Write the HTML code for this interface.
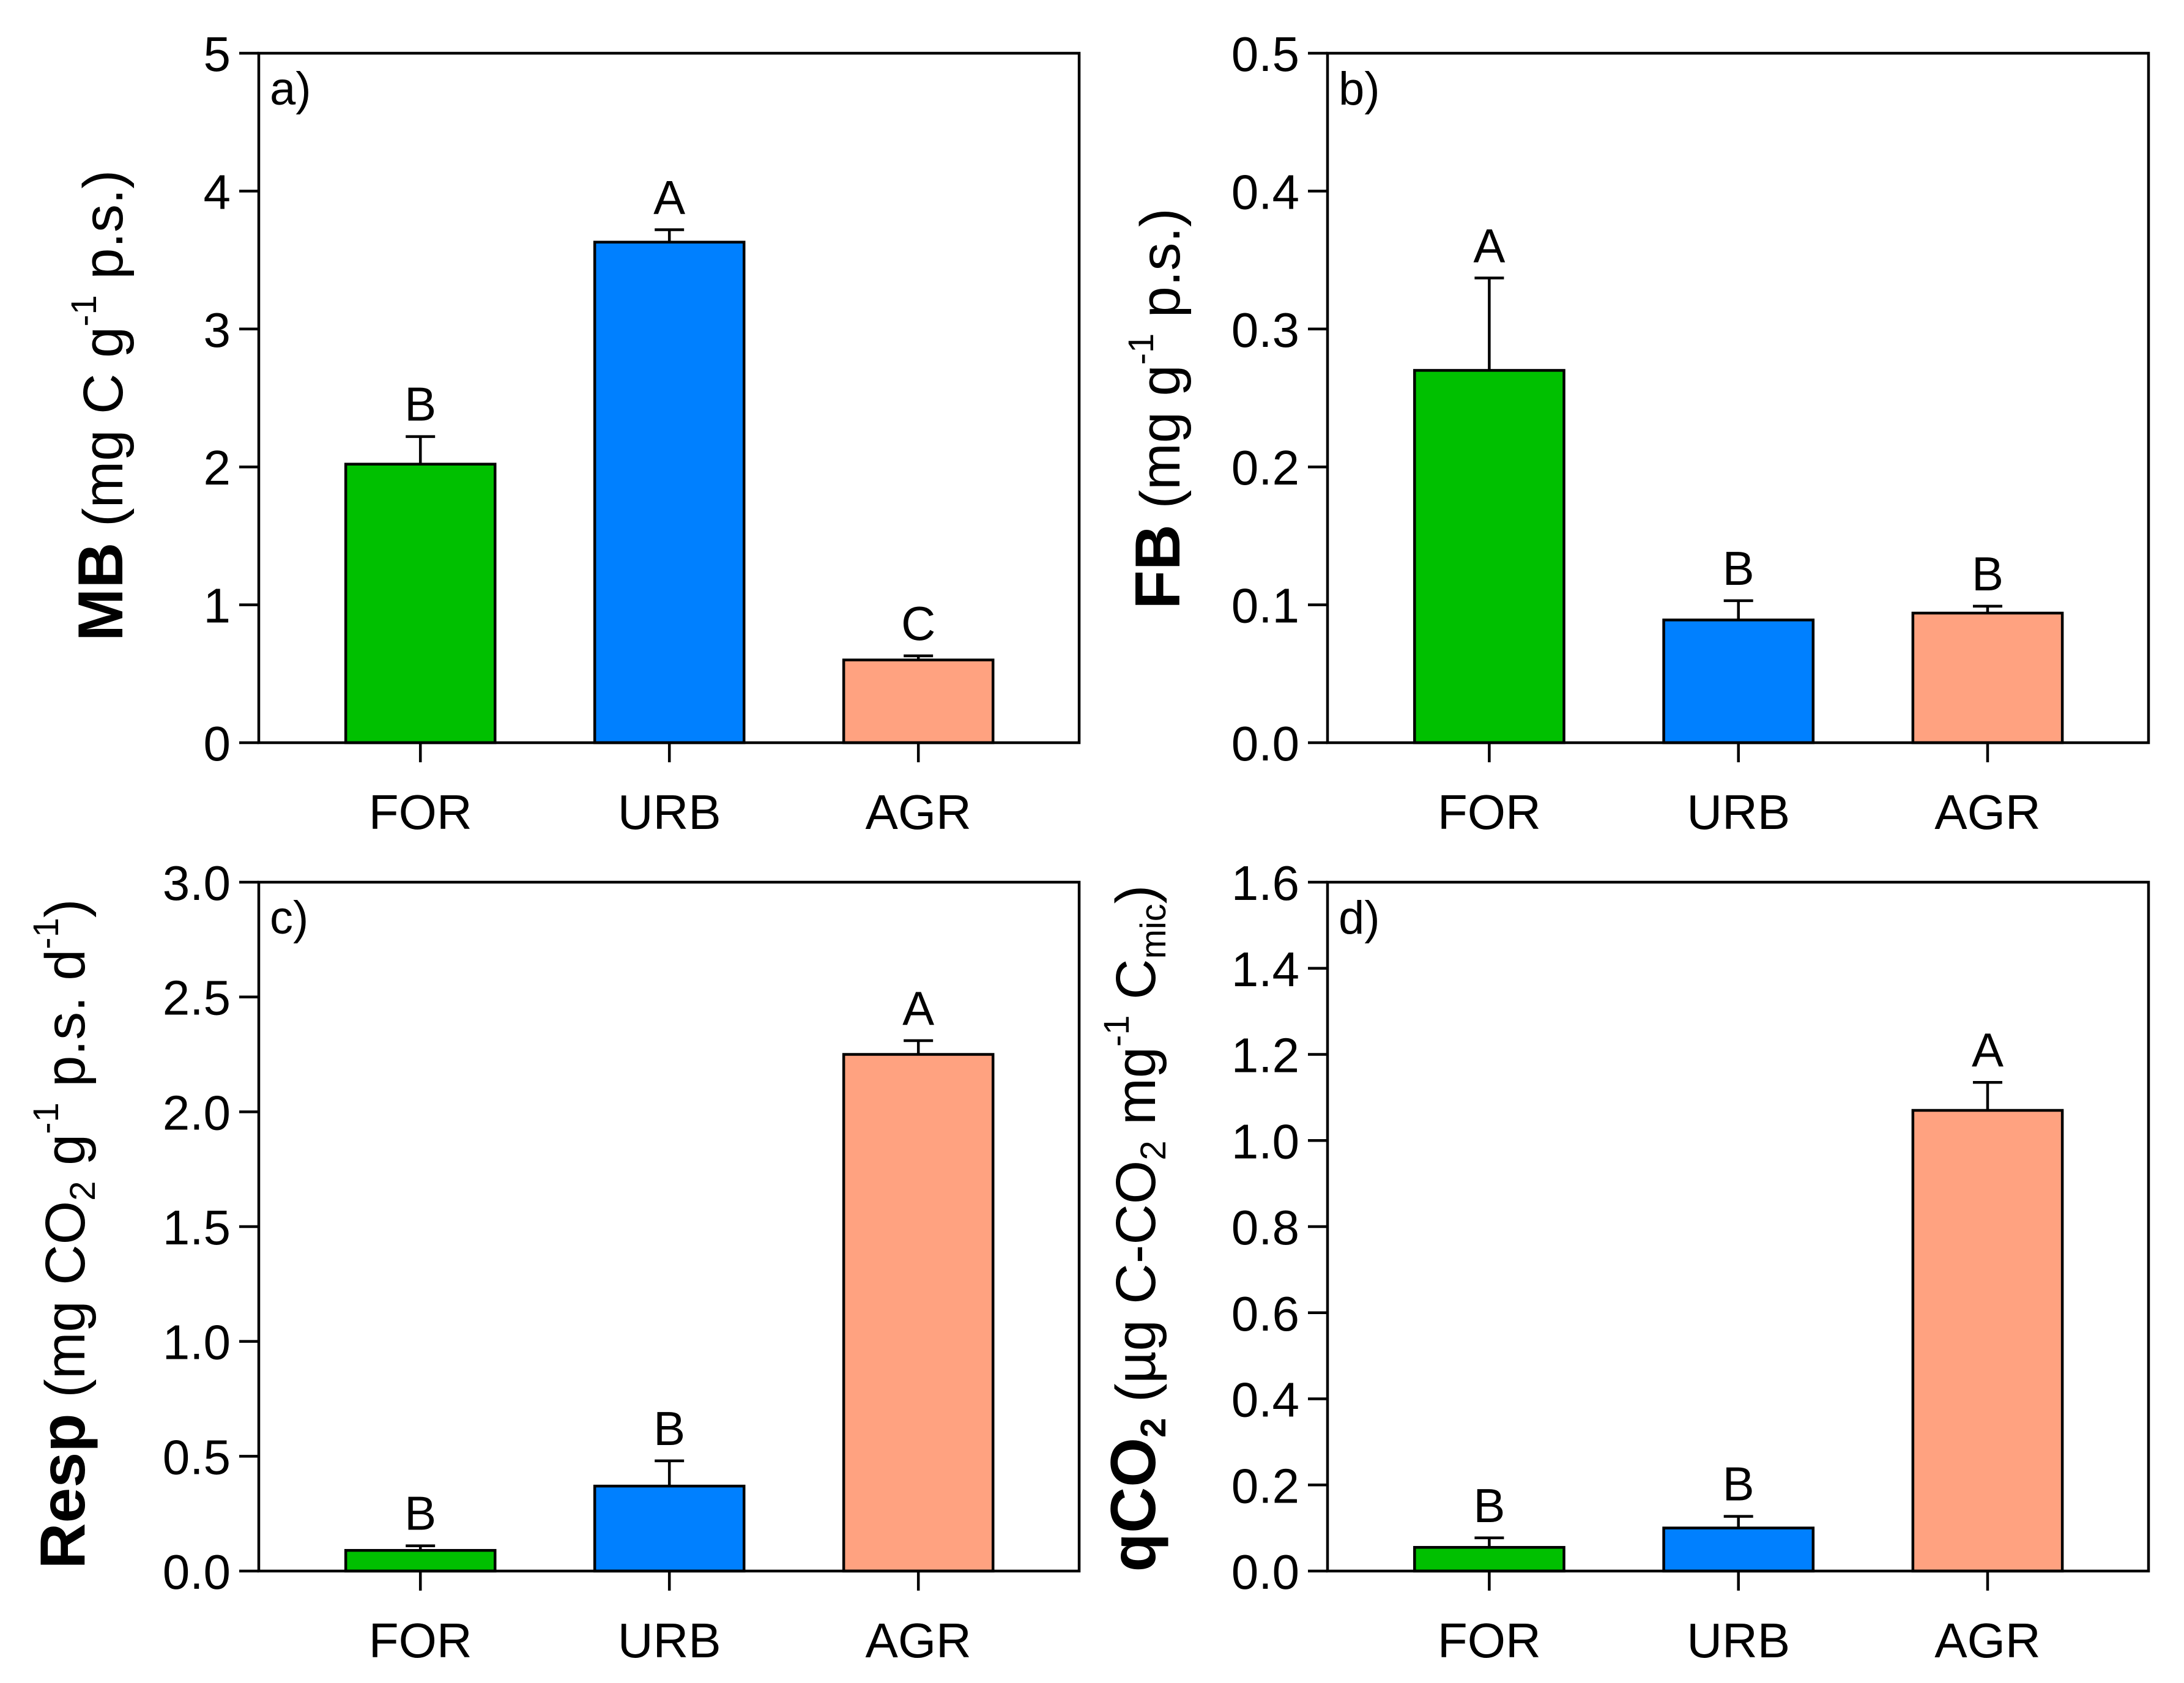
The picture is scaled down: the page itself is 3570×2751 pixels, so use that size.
<!DOCTYPE html>
<html><head><meta charset="utf-8"><style>
html,body{margin:0;padding:0;background:#fff}
svg{display:block;font-family:"Liberation Sans",Arial,sans-serif}
</style></head><body>
<svg id="chart" width="3570" height="2751" viewBox="0 0 3570 2751"></svg>
<script>
const categories = ["FOR","URB","AGR"];
const colors = ["#00c000","#0080ff","#ffa280"];
const mbValues = [2.02, 3.63, 0.60];
const mbErrors = [0.20, 0.09, 0.03];
const mbLetters = ["B","A","C"];
const mbTicks = ["0","1","2","3","4","5"];
const fbValues = [0.270, 0.089, 0.094];
const fbErrors = [0.067, 0.014, 0.005];
const fbLetters = ["A","B","B"];
const fbTicks = ["0.0","0.1","0.2","0.3","0.4","0.5"];
const respValues = [0.09, 0.37, 2.25];
const respErrors = [0.02, 0.11, 0.06];
const respLetters = ["B","B","A"];
const respTicks = ["0.0","0.5","1.0","1.5","2.0","2.5","3.0"];
const qco2Values = [0.055, 0.100, 1.070];
const qco2Errors = [0.022, 0.027, 0.065];
const qco2Letters = ["B","B","A"];
const qco2Ticks = ["0.0","0.2","0.4","0.6","0.8","1.0","1.2","1.4","1.6"];

const NS="http://www.w3.org/2000/svg";
const svg=document.getElementById('chart');
function mk(tag,attrs,parent,text){const e=document.createElementNS(NS,tag);for(const k in attrs)e.setAttribute(k,attrs[k]);if(text!==undefined)e.textContent=text;(parent||svg).appendChild(e);return e;}

const panels=[
 {id:"a",L:423,R:1764,T:87,B:1214,vals:mbValues,errs:mbErrors,letters:mbLetters,ticks:mbTicks,tx:200,ty:663},
 {id:"b",L:2170,R:3512,T:87,B:1214,vals:fbValues,errs:fbErrors,letters:fbLetters,ticks:fbTicks,tx:1928,ty:668},
 {id:"c",L:423,R:1764,T:1442,B:2568,vals:respValues,errs:respErrors,letters:respLetters,ticks:respTicks,tx:138,ty:2017},
 {id:"d",L:2170,R:3512,T:1442,B:2568,vals:qco2Values,errs:qco2Errors,letters:qco2Letters,ticks:qco2Ticks,tx:1888,ty:2008}
];
const titles={
 a:[["MB",1,0],[" (mg C g",0,0],["-1",0,1],["  p.s.)",0,0]],
 b:[["FB",1,0],[" (mg g",0,0],["-1",0,1],["  p.s.)",0,0]],
 c:[["Resp",1,0],[" (mg CO",0,0],["2",0,-1],[" g",0,0],["-1",0,1],["  p.s. d",0,0],["-1",0,1],[")",0,0]],
 d:[["qCO",1,0],["2",1,-1],[" (\u00b5g C-CO",0,0],["2",0,-1],[" mg",0,0],["-1",0,1],["  C",0,0],["mic",0,-1],[")",0,0]]
};

panels.forEach(p=>{
 const g=mk('g',{},svg);
 
 
 const maxV=parseFloat(p.ticks[p.ticks.length-1]);
 const y=v=>p.B-(v/maxV)*(p.B-p.T);
 const W=p.R-p.L;
 const xc=i=>p.L+W*(0.197+0.3035*i);
 const bw=W*0.182;
 p.vals.forEach((v,i)=>{
  const eTop=y(v+p.errs[i]);
  const ln=mk('line',{x1:xc(i),x2:xc(i),y1:y(v),y2:eTop,stroke:'#000','stroke-width':4.5},g);
  
  
  const cap=mk('line',{x1:xc(i)-24,x2:xc(i)+24,y1:eTop,y2:eTop,stroke:'#000','stroke-width':4.5},g);
  
  
  const r=mk('rect',{x:xc(i)-bw/2,y:y(v),width:bw,height:p.B-y(v),fill:colors[i],stroke:'#000','stroke-width':4.5},g);
  
  
  const lt=mk('text',{x:xc(i),y:eTop-26,'text-anchor':'middle','font-size':78},g,p.letters[i]);
  
  
  const tk=mk('line',{x1:xc(i),x2:xc(i),y1:p.B,y2:p.B+32,stroke:'#000','stroke-width':4.5},g);
  
  
  const cl=mk('text',{x:xc(i),y:p.B+141,'text-anchor':'middle','font-size':80},g,categories[i]);
  
  
 });
 const fr=mk('rect',{x:p.L,y:p.T,width:W,height:p.B-p.T,fill:'none',stroke:'#000','stroke-width':4.5},g);
 
 
 p.ticks.forEach(t=>{
  const v=parseFloat(t);
  const tl=mk('line',{x1:p.L-32,x2:p.L,y1:y(v),y2:y(v),stroke:'#000','stroke-width':4.5},g);
  
  
  const tt=mk('text',{x:p.L-46,y:y(v)+29,'text-anchor':'end','font-size':80},g,t);
  
  
 });
 const pl=mk('text',{x:p.L+18,y:p.T+84,'font-size':76},g,p.id+')');
 
 
 const tt=mk('text',{transform:`translate(${p.tx},${p.ty}) rotate(-90)`,'text-anchor':'middle','font-size':92},g);
 
 
 titles[p.id].forEach(s=>{
  const a={};
  if(s[1]){a['font-weight']='bold';a['font-size']=104;}
  if(s[2]===1){a['font-size']=58;a['baseline-shift']='75%';}
  if(s[2]===-1){a['font-size']=58;a['baseline-shift']='-30%';}
  mk('tspan',a,tt,s[0]);
 });
});
</script>
</body></html>
